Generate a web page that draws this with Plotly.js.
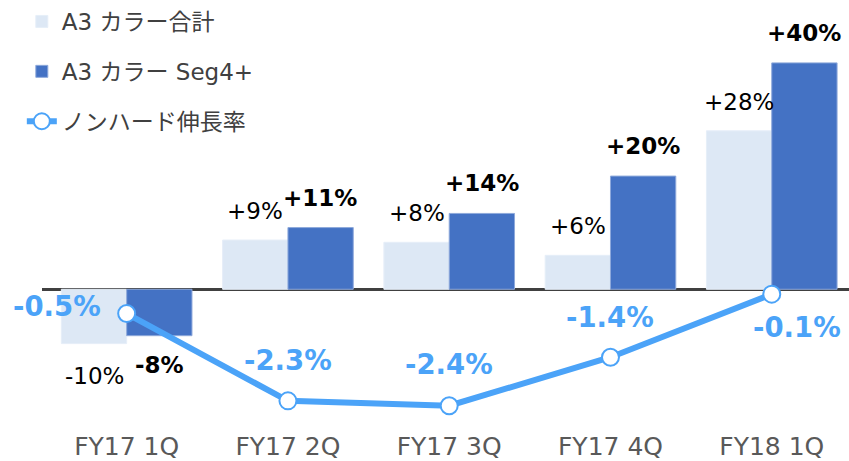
<!DOCTYPE html>
<html>
<head>
<meta charset="utf-8">
<script src="https://cdn.plot.ly/plotly-3.0.1.min.js"></script>
<style>html,body{margin:0;padding:0;background:#fff;}#chart{width:849px;height:461px;}</style>
</head>
<body>
<div id="chart"></div>
<script>
var categories = ['FY17 1Q', 'FY17 2Q', 'FY17 3Q', 'FY17 4Q', 'FY18 1Q'];
var totalValues = [-9.6, 8.7, 8.3, 6.0, 28.0];
var totalLabels = ['-10%', '+9%', '+8%', '+6%', '+28%'];
var segValues = [-8.2, 10.9, 13.4, 20.0, 40.0];
var segLabels = ['-8%', '+11%', '+14%', '+20%', '+40%'];
var nonHardValues = [-0.5, -2.3, -2.4, -1.4, -0.1];
var nonHardLabels = ['-0.5%', '-2.3%', '-2.4%', '-1.4%', '-0.1%'];

var seriesNames = ['A3 カラー合計', 'A3 カラー Seg4+', 'ノンハード伸長率'];

var LIGHT = '#DDE8F5', DARK = '#4472C4', BLUE = '#4BA3F8';
var LATIN = 'DejaVu Sans, Noto Sans CJK JP, sans-serif';

var traces = [
  {type: 'bar', name: seriesNames[0], x: categories, y: totalValues, legendgroup: 'a',
   marker: {color: LIGHT, line: {color: '#E6EEF8', width: 1}}, hoverinfo: 'skip'},
  {type: 'bar', name: seriesNames[1], x: categories, y: segValues, legendgroup: 'b',
   marker: {color: DARK, line: {color: '#8EA9DB', width: 1}}, hoverinfo: 'skip'},
  {type: 'scatter', mode: 'lines+markers', name: seriesNames[2], x: categories, y: nonHardValues,
   yaxis: 'y2', legendgroup: 'c', cliponaxis: false,
   line: {color: BLUE, width: 6},
   marker: {color: '#ffffff', size: 17, line: {color: BLUE, width: 2}}, hoverinfo: 'skip'}
];

var annotations = [];
var barShift = 32.5;
for (var i = 0; i < categories.length; i++) {
  annotations.push({x: i, y: totalValues[i], xref: 'x', yref: 'y', text: totalLabels[i],
    showarrow: false, xshift: -barShift, yshift: totalValues[i] >= 0 ? 29 : -32,
    font: {family: LATIN, size: 23, color: '#000'}});
  annotations.push({x: i, y: segValues[i], xref: 'x', yref: 'y', text: '<b>' + segLabels[i] + '</b>',
    showarrow: false, xshift: barShift, yshift: segValues[i] >= 0 ? 30 : -29,
    font: {family: LATIN, size: 23, color: '#000'}});
}
var lineShiftX = [-70, 0, 0, 0, 25];
var lineShiftY = [8, 41, 42, 40, -33];
for (var j = 0; j < categories.length; j++) {
  annotations.push({x: j, y: nonHardValues[j], xref: 'x', yref: 'y2', text: '<b>' + nonHardLabels[j] + '</b>',
    showarrow: false, xshift: lineShiftX[j], yshift: lineShiftY[j],
    font: {family: LATIN, size: 27.5, color: BLUE}});
}

var layout = {
  width: 849, height: 461,
  margin: {l: 42, r: 0, t: 0, b: 36},
  paper_bgcolor: '#ffffff', plot_bgcolor: '#ffffff',
  barmode: 'group', bargap: 0.19, bargroupgap: 0,
  hovermode: false,
  showlegend: true,
  legend: {x: -0.025, xanchor: 'left', y: 1.0, yanchor: 'top', traceorder: 'grouped',
    tracegroupgap: 17, bgcolor: 'rgba(0,0,0,0)',
    font: {family: LATIN, size: 23, color: '#404040'}},
  xaxis: {type: 'category', range: [-0.525, 4.479], showgrid: false, zeroline: false,
    showline: false, ticks: '', ticklabelstandoff: 4,
    tickfont: {family: LATIN, size: 25, color: '#595959'}},
  yaxis: {range: [-23.98, 51.11], showgrid: false, showticklabels: false, ticks: '',
    zeroline: true, zerolinecolor: '#404040', zerolinewidth: 3, showline: false},
  yaxis2: {range: [-2.798, 5.965], overlaying: 'y', side: 'right', showgrid: false,
    showticklabels: false, ticks: '', zeroline: false, showline: false},
  annotations: annotations
};

Plotly.newPlot('chart', traces, layout, {staticPlot: true, displayModeBar: false});
</script>
</body>
</html>
